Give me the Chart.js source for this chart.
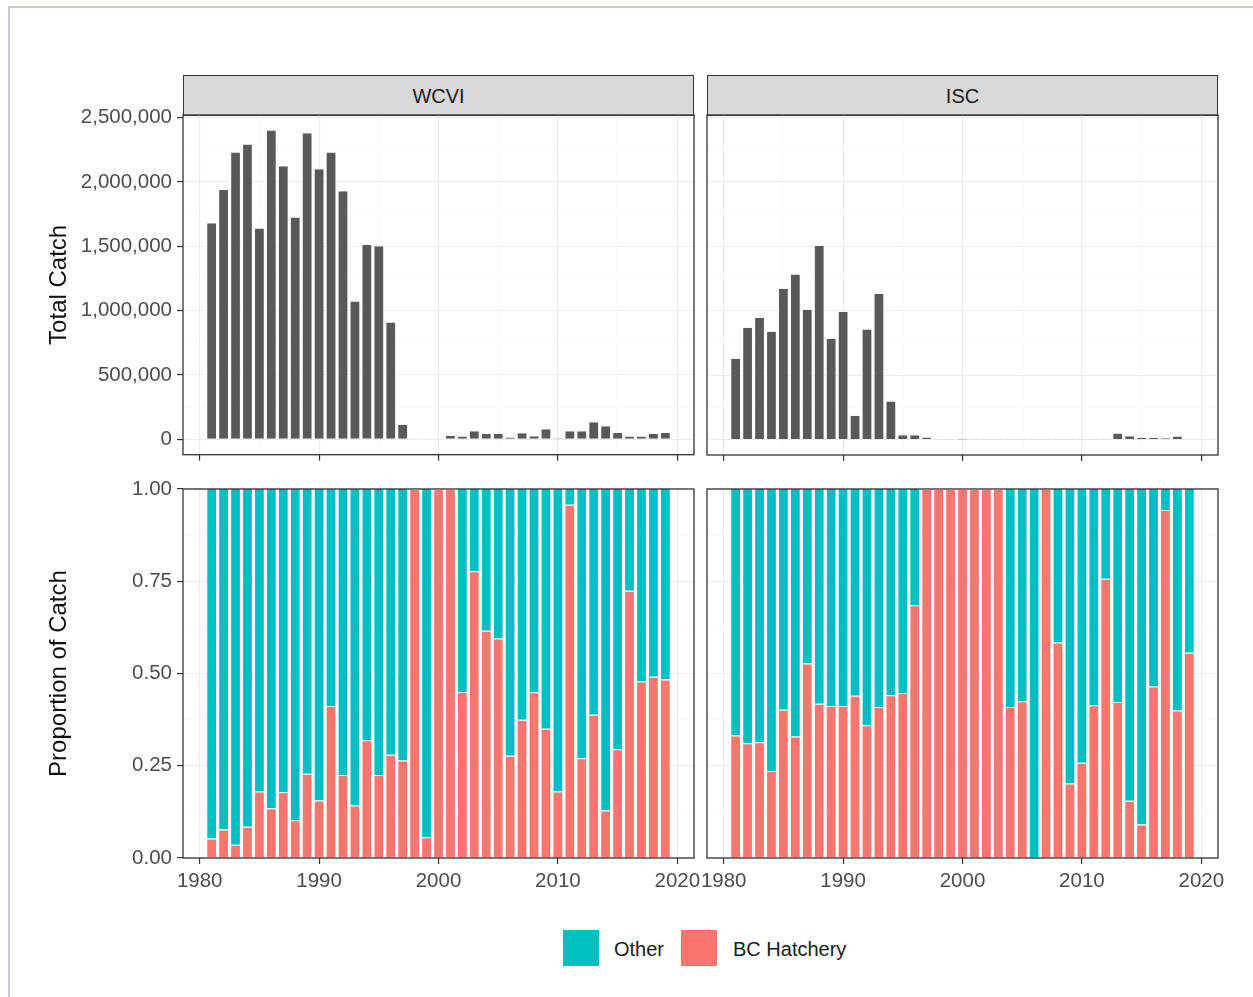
<!DOCTYPE html>
<html>
<head>
<meta charset="utf-8">
<title>Catch by region</title>
<script src="https://cdn.jsdelivr.net/npm/chart.js@4/dist/chart.umd.min.js"></script>
<style>
  body { margin: 0; background: #fff; font-family: "Liberation Sans", Arial, sans-serif; }
  #page { position: relative; width: 1253px; height: 997px; overflow: hidden; background: #fff; }
  .frame { position: absolute; left: 8px; top: 6px; width: 1300px; height: 1100px;
           border-left: 2px solid #c9c9d3; border-top: 2px solid #c9c9d3; }
  .panel { position: absolute; }
  .strip { position: absolute; top: 75px; width: 511px; height: 41px; box-sizing: border-box;
           background: #d9d9d9; border: 1.3px solid #333; text-align: center;
           line-height: 40px; font-size: 20px; color: #1a1a1a; }
  .key { position: absolute; top: 930px; width: 36px; height: 36px; }
  .lab { position: absolute; top: 937px; font-size: 20px; line-height: 24px; color: #1a1a1a; }
</style>
</head>
<body>
<div id="page">
  <div class="frame"></div>
  <div class="strip" style="left:183px">WCVI</div>
  <div class="strip" style="left:707px">ISC</div>
  <div class="panel" style="left:20px;top:95px"><canvas id="wcviTotal" width="700" height="377"></canvas></div>
  <div class="panel" style="left:687px;top:95px"><canvas id="iscTotal" width="557" height="377"></canvas></div>
  <div class="panel" style="left:20px;top:469px"><canvas id="wcviProp" width="700" height="423"></canvas></div>
  <div class="panel" style="left:687px;top:469px"><canvas id="iscProp" width="557" height="423"></canvas></div>
  <div id="legend"></div>
</div>

<script>
const years = [1981, 1982, 1983, 1984, 1985, 1986, 1987, 1988, 1989, 1990,
  1991, 1992, 1993, 1994, 1995, 1996, 1997, 1998, 1999, 2000,
  2001, 2002, 2003, 2004, 2005, 2006, 2007, 2008, 2009, 2010,
  2011, 2012, 2013, 2014, 2015, 2016, 2017, 2018, 2019];

// total catch per year
const wcviCatch = [1679000, 1938000, 2228000, 2290000, 1637000, 2399000, 2122000, 1723000, 2378000, 2098000,
  2228000, 1927000, 1070000, 1510000, 1500000, 907000, 111000, 2000, 3000, 1500,
  28000, 21000, 62000, 41000, 41000, 13000, 47000, 23000, 78000, 8000,
  62000, 62000, 132000, 101000, 49000, 21000, 21000, 41000, 49000];
const iscCatch = [627000, 868000, 946000, 837000, 1171000, 1282000, 1008000, 1503000, 780000, 992000,
  184000, 855000, 1132000, 295000, 34000, 34000, 16000, 2000, 1500, 1000,
  1500, 2000, 1500, 2500, 2000, 1500, 2000, 2500, 2000, 1500,
  2000, 2500, 47000, 26000, 13000, 13000, 10000, 23000, 4000];

// share of catch by origin
const wcviHatchery = [0.053, 0.077, 0.036, 0.085, 0.18, 0.135, 0.178, 0.102, 0.228, 0.156,
  0.412, 0.225, 0.142, 0.319, 0.225, 0.28, 0.264, 1, 0.056, 1,
  1, 0.45, 0.777, 0.616, 0.595, 0.277, 0.375, 0.449, 0.35, 0.18,
  0.957, 0.27, 0.388, 0.129, 0.295, 0.724, 0.478, 0.491, 0.484];
const wcviOther = [0.947, 0.923, 0.964, 0.915, 0.82, 0.865, 0.822, 0.898, 0.772, 0.844,
  0.588, 0.775, 0.858, 0.681, 0.775, 0.72, 0.736, 0, 0.944, 0,
  0, 0.55, 0.223, 0.384, 0.405, 0.723, 0.625, 0.551, 0.65, 0.82,
  0.043, 0.73, 0.612, 0.871, 0.705, 0.276, 0.522, 0.509, 0.516];
const iscHatchery = [0.332, 0.311, 0.314, 0.236, 0.402, 0.329, 0.527, 0.418, 0.412, 0.412,
  0.44, 0.36, 0.409, 0.441, 0.447, 0.685, 1, 1, 1, 1,
  1, 1, 1, 0.409, 0.425, 0, 1, 0.584, 0.202, 0.258,
  0.414, 0.757, 0.423, 0.155, 0.091, 0.465, 0.943, 0.4, 0.556];
const iscOther = [0.668, 0.689, 0.686, 0.764, 0.598, 0.671, 0.473, 0.582, 0.588, 0.588,
  0.56, 0.64, 0.591, 0.559, 0.553, 0.315, 0, 0, 0, 0,
  0, 0, 0, 0.591, 0.575, 1, 0, 0.416, 0.798, 0.742,
  0.586, 0.243, 0.577, 0.845, 0.909, 0.535, 0.057, 0.6, 0.444];

const seriesNames = ["Other", "BC Hatchery"];
const seriesColors = ["#00BFC4", "#F8766D"];

const yearTicks = [1980, 1985, 1990, 1995, 2000, 2005, 2010, 2015, 2020];
const catchTicks = [0, 250000, 500000, 750000, 1000000, 1250000, 1500000, 1750000, 2000000, 2250000, 2500000];
const propTicks = [0, 0.125, 0.25, 0.375, 0.5, 0.625, 0.75, 0.875, 1];

const TICK_FONT = { family: "'Liberation Sans', Arial, sans-serif", size: 20.5 };
const TICK_COLOR = "#4d4d4d";
const GRID_MAJOR = "#ebebeb";
const GRID_MINOR = "#f5f5f5";

function points(values) {
  return values.map((v, i) => ({ x: years[i], y: v }));
}

// panel outline drawn over the bars
const panelBorder = {
  id: "panelBorder",
  afterDatasetsDraw(chart) {
    const a = chart.chartArea;
    const ctx = chart.ctx;
    ctx.save();
    ctx.strokeStyle = "#333333";
    ctx.lineWidth = 1.3;
    ctx.strokeRect(a.left, a.top, a.right - a.left, a.bottom - a.top);
    ctx.restore();
  }
};

function gridFor(isMajor, showTicks) {
  return {
    offset: false,
    drawTicks: showTicks,
    tickLength: 6,
    color: c => isMajor(c.tick.value) ? GRID_MAJOR : GRID_MINOR,
    lineWidth: c => isMajor(c.tick.value) ? 1.1 : 0.6,
    tickColor: c => isMajor(c.tick.value) ? "#333333" : "rgba(0,0,0,0)",
    tickWidth: 1.2
  };
}

function xAxis(showLabels, height) {
  const major = v => v % 10 === 0;
  return {
    type: "linear",
    min: 1978.6,
    max: 2021.4,
    offset: false,
    stacked: true,
    afterBuildTicks: s => { s.ticks = yearTicks.map(v => ({ value: v })); },
    afterFit: s => { s.height = height; },
    grid: gridFor(major, true),
    border: { display: false },
    ticks: {
      display: showLabels,
      autoSkip: false,
      maxRotation: 0,
      padding: 5,
      font: TICK_FONT,
      color: TICK_COLOR,
      callback: v => major(v) ? String(v) : ""
    }
  };
}

function yAxis(cfg) {
  return {
    type: "linear",
    min: cfg.min,
    max: cfg.max,
    stacked: cfg.stacked,
    afterBuildTicks: s => { s.ticks = cfg.ticks.map(v => ({ value: v })); },
    afterFit: s => { s.width = cfg.title ? 163 : 0; },
    grid: gridFor(cfg.major, !!cfg.title),
    border: { display: false },
    title: {
      display: !!cfg.title,
      text: cfg.title || "",
      color: "#111111",
      font: { family: "'Liberation Sans', Arial, sans-serif", size: 24 },
      padding: { top: 25, bottom: 0 }
    },
    ticks: {
      display: !!cfg.title,
      autoSkip: false,
      padding: 5,
      font: TICK_FONT,
      color: TICK_COLOR,
      callback: cfg.format
    }
  };
}

const sideBorder = { left: 1, right: 1, top: 0, bottom: 0 };

function panelPadding(withAxis) {
  return { left: withAxis ? 0 : 20, top: 20, right: 26, bottom: 0 };
}

function totalPanel(id, values, withAxis) {
  const major = v => v % 500000 === 0;
  new Chart(document.getElementById(id), {
    type: "bar",
    data: {
      datasets: [{
        label: "Total Catch",
        data: points(values),
        backgroundColor: "#595959",
        borderColor: "#ffffff",
        borderWidth: sideBorder,
        borderSkipped: false,
        barPercentage: 0.9,
        categoryPercentage: 1
      }]
    },
    options: {
      responsive: false,
      animation: false,
      layout: { padding: panelPadding(withAxis) },
      plugins: { legend: { display: false }, tooltip: { enabled: false } },
      scales: {
        x: xAxis(false, 17),
        y: yAxis({
          min: -120000, max: 2520000, ticks: catchTicks, major: major,
          title: withAxis ? "Total Catch" : null,
          format: v => major(v) ? v.toLocaleString("en-US") : ""
        })
      }
    },
    plugins: [panelBorder]
  });
}

function propPanel(id, hatchery, other, withAxis) {
  const major = v => Math.abs(v * 4 - Math.round(v * 4)) < 1e-9;
  new Chart(document.getElementById(id), {
    type: "bar",
    data: {
      datasets: [
        {
          label: seriesNames[1],
          data: points(hatchery),
          backgroundColor: seriesColors[1],
          borderColor: "#ffffff",
          borderWidth: { left: 1, right: 1, top: 1, bottom: 0 },
          borderSkipped: false,
          barPercentage: 0.9,
          categoryPercentage: 1
        },
        {
          label: seriesNames[0],
          data: points(other),
          backgroundColor: seriesColors[0],
          borderColor: "#ffffff",
          borderWidth: sideBorder,
          borderSkipped: false,
          barPercentage: 0.9,
          categoryPercentage: 1
        }
      ]
    },
    options: {
      responsive: false,
      animation: false,
      layout: { padding: panelPadding(withAxis) },
      plugins: { legend: { display: false }, tooltip: { enabled: false } },
      scales: {
        x: xAxis(true, 34),
        y: yAxis({
          min: 0, max: 1, stacked: true, ticks: propTicks, major: major,
          title: withAxis ? "Proportion of Catch" : null,
          format: v => major(v) ? v.toFixed(2) : ""
        })
      }
    },
    plugins: [panelBorder]
  });
}

function buildLegend() {
  const legend = document.getElementById("legend");
  const keyLeft = [563, 681];
  const labelLeft = [614, 733];
  seriesNames.forEach((name, i) => {
    legend.innerHTML += `
      <div class="key" style="left:${keyLeft[i]}px;background:${seriesColors[i]}"></div>
      <div class="lab" style="left:${labelLeft[i]}px">${name}</div>
    `;
  });
}

window.onload = () => {
  totalPanel("wcviTotal", wcviCatch, true);
  totalPanel("iscTotal", iscCatch, false);
  propPanel("wcviProp", wcviHatchery, wcviOther, true);
  propPanel("iscProp", iscHatchery, iscOther, false);
  buildLegend();
};
</script>
</body>
</html>
